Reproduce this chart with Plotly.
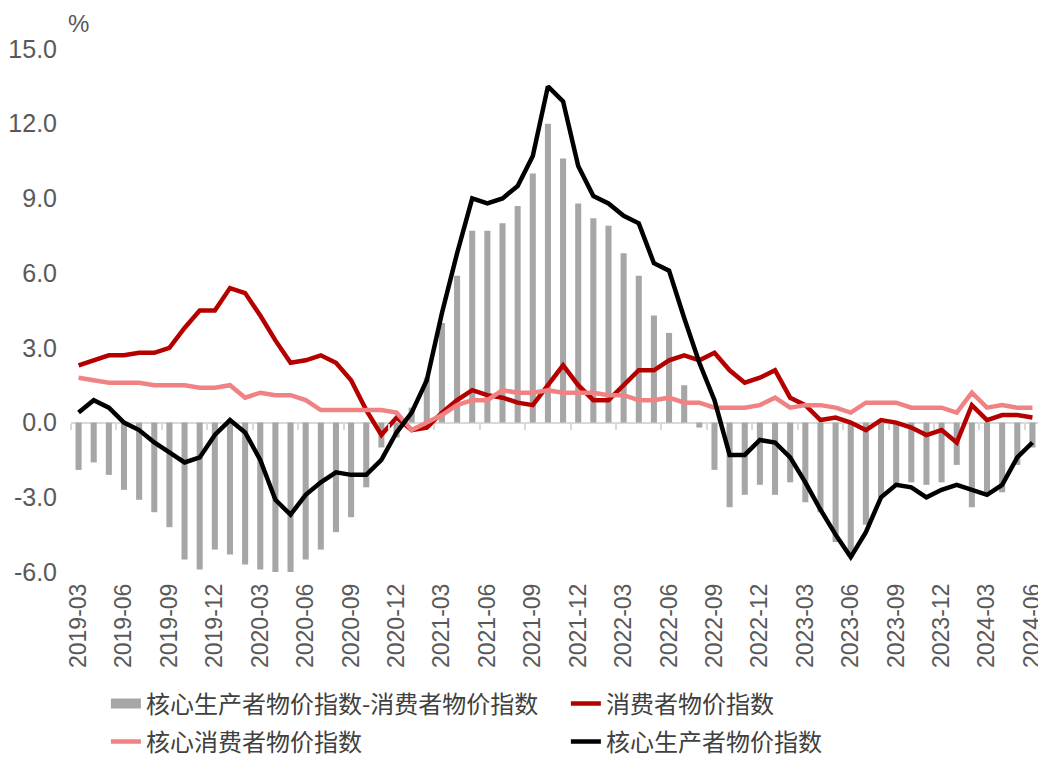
import plotly.graph_objects as go

months = [f"{y}-{m:02d}" for y, ms in [(2019, range(3, 13)), (2020, range(1, 13)), (2021, range(1, 13)),
                                        (2022, range(1, 13)), (2023, range(1, 13)), (2024, range(1, 7))] for m in ms]

spread = [-1.9, -1.6, -2.1, -2.7, -3.1, -3.6, -4.2, -5.5, -5.9, -5.1,
          -5.3, -5.7, -5.9, -6.0, -6.0, -5.5, -5.1, -4.4, -3.8, -2.6, -1.0, -0.6,
          0.6, 1.8, 4.0, 5.9, 7.7, 7.7, 8.0, 8.7, 10.0, 12.0, 10.6, 8.8,
          8.2, 7.9, 6.8, 5.9, 4.3, 3.6, 1.5, -0.2, -1.9, -3.4, -2.9, -2.5,
          -2.9, -2.4, -3.2, -3.6, -4.8, -5.4, -4.1, -3.0, -2.5, -2.4, -2.5, -2.4,
          -1.7, -3.4, -2.9, -2.8, -1.7, -1.0]

cpi = [2.3, 2.5, 2.7, 2.7, 2.8, 2.8, 3.0, 3.8, 4.5, 4.5,
       5.4, 5.2, 4.3, 3.3, 2.4, 2.5, 2.7, 2.4, 1.7, 0.5, -0.5, 0.2,
       -0.3, -0.2, 0.4, 0.9, 1.3, 1.1, 1.0, 0.8, 0.7, 1.5, 2.3, 1.5,
       0.9, 0.9, 1.5, 2.1, 2.1, 2.5, 2.7, 2.5, 2.8, 2.1, 1.6, 1.8,
       2.1, 1.0, 0.7, 0.1, 0.2, 0.0, -0.3, 0.1, 0.0, -0.2, -0.5, -0.3,
       -0.8, 0.7, 0.1, 0.3, 0.3, 0.2]

core_cpi = [1.8, 1.7, 1.6, 1.6, 1.6, 1.5, 1.5, 1.5, 1.4, 1.4,
            1.5, 1.0, 1.2, 1.1, 1.1, 0.9, 0.5, 0.5, 0.5, 0.5, 0.5, 0.4,
            -0.3, 0.0, 0.3, 0.7, 0.9, 0.9, 1.3, 1.2, 1.2, 1.3, 1.2, 1.2,
            1.2, 1.1, 1.1, 0.9, 0.9, 1.0, 0.8, 0.8, 0.6, 0.6, 0.6, 0.7,
            1.0, 0.6, 0.7, 0.7, 0.6, 0.4, 0.8, 0.8, 0.8, 0.6, 0.6, 0.6,
            0.4, 1.2, 0.6, 0.7, 0.6, 0.6]

core_ppi = [0.4, 0.9, 0.6, 0.0, -0.3, -0.8, -1.2, -1.6, -1.4, -0.5,
            0.1, -0.4, -1.5, -3.1, -3.7, -2.9, -2.4, -2.0, -2.1, -2.1, -1.5, -0.4,
            0.4, 1.7, 4.4, 6.8, 9.0, 8.8, 9.0, 9.5, 10.7, 13.5, 12.9, 10.3,
            9.1, 8.8, 8.3, 8.0, 6.4, 6.1, 4.2, 2.4, 0.9, -1.3, -1.3, -0.7,
            -0.8, -1.4, -2.4, -3.5, -4.5, -5.4, -4.4, -3.0, -2.5, -2.6, -3.0, -2.7,
            -2.5, -2.7, -2.9, -2.5, -1.4, -0.8]

tick_labels = months[::3]
y_ticks = [-6, -3, 0, 3, 6, 9, 12, 15]

names = ["核心生产者物价指数-消费者物价指数", "消费者物价指数", "核心消费者物价指数", "核心生产者物价指数"]

x_font = dict(family="Liberation Sans, Arial, sans-serif", size=23, color="#595959")
y_font = dict(family="Liberation Sans, Arial, sans-serif", size=25, color="#595959")
pct_font = dict(family="Liberation Sans, Arial, sans-serif", size=24, color="#595959")
cjk_font = dict(family="Noto Sans CJK SC, sans-serif", size=24, color="#404040")

GRAY, RED, PINK, BLACK = "#A6A6A6", "#B50000", "#F08284", "#000000"

fig = go.Figure()
fig.add_trace(go.Bar(x=months, y=spread, name=names[0], showlegend=False,
                     marker=dict(color=GRAY, line=dict(width=0))))
# legend key for the bar series (wide grey block like the reference)
fig.add_trace(go.Scatter(x=[None], y=[None], name=names[0], mode="lines", legend="legend",
                         line=dict(color=GRAY, width=16), hoverinfo="skip"))
fig.add_trace(go.Scatter(x=months, y=cpi, name=names[1], mode="lines", legend="legend",
                         line=dict(color=RED, width=4.5)))
fig.add_trace(go.Scatter(x=months, y=core_cpi, name=names[2], mode="lines", legend="legend2",
                         line=dict(color=PINK, width=4.5)))
fig.add_trace(go.Scatter(x=months, y=core_ppi, name=names[3], mode="lines", legend="legend2",
                         line=dict(color=BLACK, width=4.5)))

n = len(months)
legend_common = dict(orientation="h", x=0.036, xanchor="left", yanchor="top",
                     font=cjk_font, entrywidth=415, entrywidthmode="pixels", itemwidth=30,
                     bgcolor="rgba(0,0,0,0)")
fig.update_layout(
    width=1038, height=757,
    margin=dict(l=63, r=6, t=41, b=193, autoexpand=False),
    paper_bgcolor="white", plot_bgcolor="white",
    bargap=0.6,
    showlegend=True,
    legend=dict(legend_common, y=-0.2094),
    legend2=dict(legend_common, y=-0.282),
    xaxis=dict(type="category", range=[-0.5, n - 0.5], tickmode="array",
               tickvals=tick_labels, ticktext=tick_labels, tickangle=-90,
               tickfont=x_font, ticks="", showline=False, showgrid=False,
               zeroline=False, automargin=False, ticklabelstandoff=6),
    xaxis2=dict(overlaying="x", anchor="free", position=6 / 21, type="linear",
                range=[-0.5, n - 0.5], tickmode="array",
                tickvals=[i - 0.5 for i in range(0, n + 1, 3)],
                showticklabels=False, ticks="outside", ticklen=6, tickwidth=1.5,
                tickcolor="#D9D9D9", showline=False, showgrid=False, zeroline=False),
    yaxis=dict(range=[-6, 15], tickmode="array", tickvals=y_ticks,
               ticktext=[f"{v:.1f}" for v in y_ticks], tickfont=y_font,
               showgrid=False, showline=False, zeroline=True,
               zerolinecolor="#D9D9D9", zerolinewidth=2, ticks="",
               ticklabelstandoff=13, automargin=False),
    annotations=[dict(text="%", xref="paper", yref="paper", x=0.008, y=1 + 26 / 523,
                      xanchor="center", yanchor="middle",
                      showarrow=False, font=pct_font)],
)
fig.add_trace(go.Scatter(x=[None], y=[None], xaxis="x2", showlegend=False, hoverinfo="skip"))

fig.write_html("out.html")
